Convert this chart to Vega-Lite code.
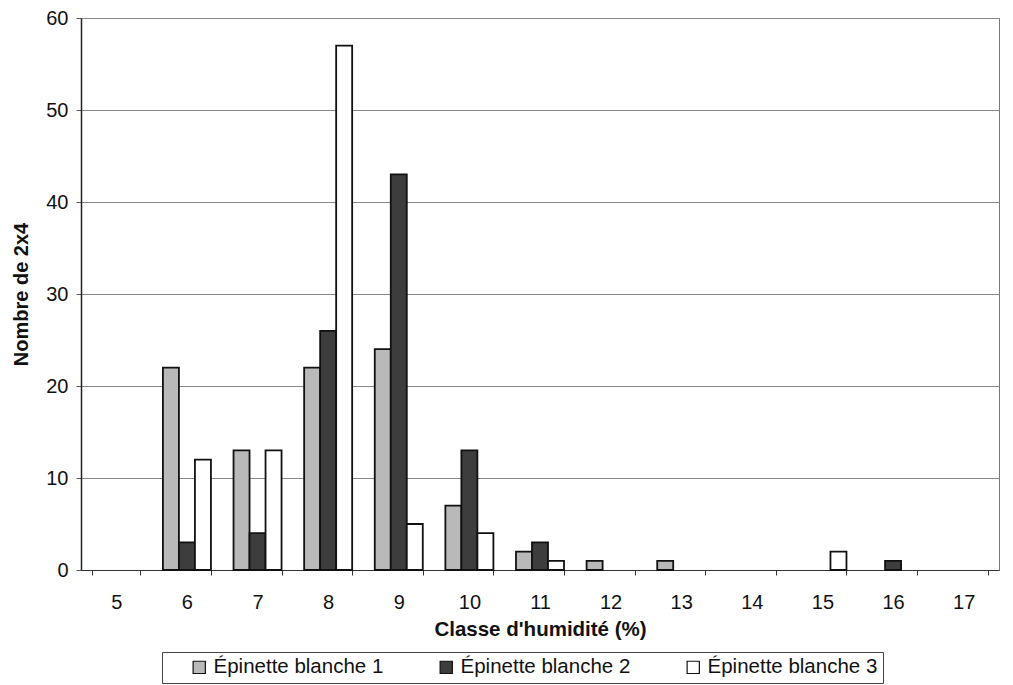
{
  "$schema": "https://vega.github.io/schema/vega-lite/v6.json",
  "width": 918,
  "height": 552,
  "padding": {"left": 11, "top": 8, "right": 8, "bottom": 5},
  "background": "white",
  "config": {
    "font": "Liberation Sans",
    "view": {"stroke": "#777", "strokeWidth": 1}
  },
  "data": {
    "values": [
      {"classe": 5, "serie": "Épinette blanche 1", "n": 0},
      {"classe": 5, "serie": "Épinette blanche 2", "n": 0},
      {"classe": 5, "serie": "Épinette blanche 3", "n": 0},
      {"classe": 6, "serie": "Épinette blanche 1", "n": 22},
      {"classe": 6, "serie": "Épinette blanche 2", "n": 3},
      {"classe": 6, "serie": "Épinette blanche 3", "n": 12},
      {"classe": 7, "serie": "Épinette blanche 1", "n": 13},
      {"classe": 7, "serie": "Épinette blanche 2", "n": 4},
      {"classe": 7, "serie": "Épinette blanche 3", "n": 13},
      {"classe": 8, "serie": "Épinette blanche 1", "n": 22},
      {"classe": 8, "serie": "Épinette blanche 2", "n": 26},
      {"classe": 8, "serie": "Épinette blanche 3", "n": 57},
      {"classe": 9, "serie": "Épinette blanche 1", "n": 24},
      {"classe": 9, "serie": "Épinette blanche 2", "n": 43},
      {"classe": 9, "serie": "Épinette blanche 3", "n": 5},
      {"classe": 10, "serie": "Épinette blanche 1", "n": 7},
      {"classe": 10, "serie": "Épinette blanche 2", "n": 13},
      {"classe": 10, "serie": "Épinette blanche 3", "n": 4},
      {"classe": 11, "serie": "Épinette blanche 1", "n": 2},
      {"classe": 11, "serie": "Épinette blanche 2", "n": 3},
      {"classe": 11, "serie": "Épinette blanche 3", "n": 1},
      {"classe": 12, "serie": "Épinette blanche 1", "n": 1},
      {"classe": 12, "serie": "Épinette blanche 2", "n": 0},
      {"classe": 12, "serie": "Épinette blanche 3", "n": 0},
      {"classe": 13, "serie": "Épinette blanche 1", "n": 1},
      {"classe": 13, "serie": "Épinette blanche 2", "n": 0},
      {"classe": 13, "serie": "Épinette blanche 3", "n": 0},
      {"classe": 14, "serie": "Épinette blanche 1", "n": 0},
      {"classe": 14, "serie": "Épinette blanche 2", "n": 0},
      {"classe": 14, "serie": "Épinette blanche 3", "n": 0},
      {"classe": 15, "serie": "Épinette blanche 1", "n": 0},
      {"classe": 15, "serie": "Épinette blanche 2", "n": 0},
      {"classe": 15, "serie": "Épinette blanche 3", "n": 2},
      {"classe": 16, "serie": "Épinette blanche 1", "n": 0},
      {"classe": 16, "serie": "Épinette blanche 2", "n": 1},
      {"classe": 16, "serie": "Épinette blanche 3", "n": 0},
      {"classe": 17, "serie": "Épinette blanche 1", "n": 0},
      {"classe": 17, "serie": "Épinette blanche 2", "n": 0},
      {"classe": 17, "serie": "Épinette blanche 3", "n": 0}
    ]
  },
  "transform": [{"filter": "datum.n > 0"}],
  "mark": {"type": "bar", "stroke": "#111", "strokeWidth": 1.8},
  "encoding": {
    "x": {
      "field": "classe",
      "type": "ordinal",
      "sort": null,
      "scale": {
        "domain": [5, 6, 7, 8, 9, 10, 11, 12, 13, 14, 15, 16, 17],
        "paddingInner": 0.32,
        "paddingOuter": 0.16
      },
      "axis": {
        "title": "Classe d'humidité (%)",
        "titleFontSize": 20.5,
        "titleFontWeight": "bold",
        "titleColor": "#111",
        "titlePadding": 7,
        "labelAngle": 0,
        "labelFontSize": 20,
        "labelColor": "#111",
        "labelPadding": 17,
        "tickBand": "extent",
        "tickSize": 5,
        "tickColor": "#333",
        "domainColor": "#333",
        "grid": false
      }
    },
    "xOffset": {
      "field": "serie",
      "type": "nominal",
      "scale": {
        "domain": ["Épinette blanche 1", "Épinette blanche 2", "Épinette blanche 3"],
        "paddingInner": 0,
        "paddingOuter": 0
      }
    },
    "y": {
      "field": "n",
      "type": "quantitative",
      "scale": {"domain": [0, 60]},
      "axis": {
        "title": "Nombre de 2x4",
        "titleFontSize": 20,
        "titleFontWeight": "bold",
        "titleColor": "#111",
        "titlePadding": 14,
        "values": [0, 10, 20, 30, 40, 50, 60],
        "labelFontSize": 20,
        "labelColor": "#111",
        "labelPadding": 8,
        "tickSize": 5,
        "tickColor": "#555",
        "domainColor": "#222",
        "domainWidth": 1.5,
        "gridColor": "#888",
        "gridWidth": 1
      }
    },
    "fill": {
      "field": "serie",
      "type": "nominal",
      "scale": {
        "domain": ["Épinette blanche 1", "Épinette blanche 2", "Épinette blanche 3"],
        "range": ["#b9b9b9", "#3d3d3d", "#ffffff"]
      },
      "legend": {
        "title": null,
        "orient": "none",
        "legendX": 81,
        "legendY": 634,
        "direction": "horizontal",
        "symbolType": "square",
        "symbolSize": 150,
        "symbolStrokeColor": "#111",
        "symbolStrokeWidth": 1.2,
        "symbolOffset": 22,
        "labelFontSize": 20.5,
        "labelColor": "#111",
        "labelOffset": 4,
        "labelLimit": 300,
        "columnPadding": 30,
        "strokeColor": "#444",
        "padding": 5
      }
    }
  }
}
